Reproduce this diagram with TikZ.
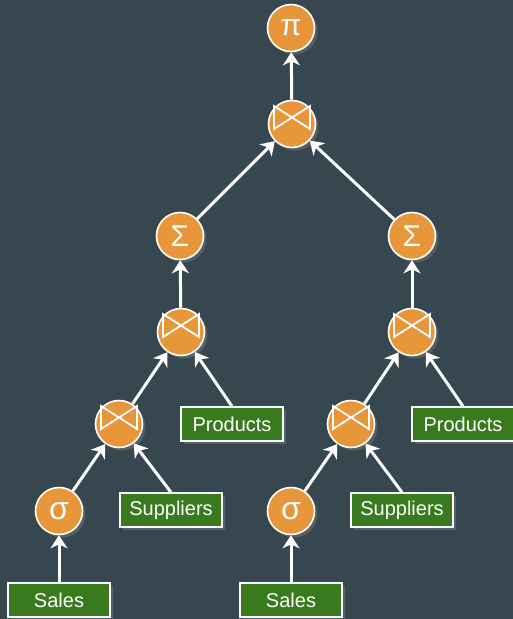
\documentclass[tikz,border=0pt]{standalone}
\usepackage{fontspec}
\setmainfont{Liberation Sans}
\usetikzlibrary{arrows.meta,shadows}
\definecolor{slate}{HTML}{37474F}
\definecolor{opfill}{HTML}{E8963A}
\definecolor{relfill}{HTML}{3A7A1E}
\begin{document}
\begin{tikzpicture}[x=1pt,y=-1pt,
	op/.style={circle,draw=white,line width=1.6pt,fill=opfill,minimum size=47pt,inner sep=0pt,text=white,font=\fontsize{30}{30}\selectfont,drop shadow={opacity=0.45,shadow xshift=3pt,shadow yshift=-3pt}},
	rel/.style={rectangle,draw=white,line width=1.4pt,fill=relfill,minimum width=102pt,minimum height=34pt,inner sep=0pt,text=white,font=\fontsize{20}{20}\selectfont,drop shadow={opacity=0.45,shadow xshift=3pt,shadow yshift=-3pt}},
	flow/.style={draw=white,line width=3pt,-{Stealth[length=13pt,width=17pt,inset=4pt]}},
	bowtie/.style={white,line width=1.8pt,line join=miter}]
	%background
	\fill[slate] (0,0) rectangle (513,619);
	\useasboundingbox (0,0) rectangle (513,619);
	
	%operators
	\node[op] (proj) at (291,28) {π};
	\node[op] (jtop) at (292,124) {};
	\node[op] (sumL) at (180,236) {Σ};
	\node[op] (sumR) at (412,236) {Σ};
	\node[op] (jL) at (181,332) {};
	\node[op] (jR) at (412,332) {};
	\node[op] (jLL) at (119,424) {};
	\node[op] (jRL) at (351,424) {};
	\node[op,font=\fontsize{32}{32}\selectfont] (selL) at (59,511) {σ};
	\node[op,font=\fontsize{32}{32}\selectfont] (selR) at (291,511) {σ};
	
	%relations
	\node[rel] (prodL) at (232,424) {Products};
	\node[rel] (prodR) at (463,424) {Products};
	\node[rel] (suppL) at (171,510) {Suppliers};
	\node[rel] (suppR) at (402,510) {Suppliers};
	\node[rel] (salesL) at (59,600) {Sales};
	\node[rel] (salesR) at (291,600) {Sales};
	
	%join symbols
	\foreach \n in {jtop, jL, jR, jLL, jRL}{
		\draw[bowtie] ([shift={(-18,-18)}]\n.center) -- ++(0,23) -- ++(36,-23) -- ++(0,23) -- cycle;
	}
	
	%flow upwards
	\foreach \a/\b in {jtop/proj, sumL/jtop, sumR/jtop, jL/sumL, jR/sumR, jLL/jL, jRL/jR, selL/jLL, selR/jRL, salesL/selL, salesR/selR}{
		\draw[flow] (\a) -- (\b);
	}
	\foreach \a/\b in {prodL/jL, prodR/jR, suppL/jLL, suppR/jRL}{
		\draw[flow] (\a.north) -- (\b);
	}
\end{tikzpicture}
\end{document}
